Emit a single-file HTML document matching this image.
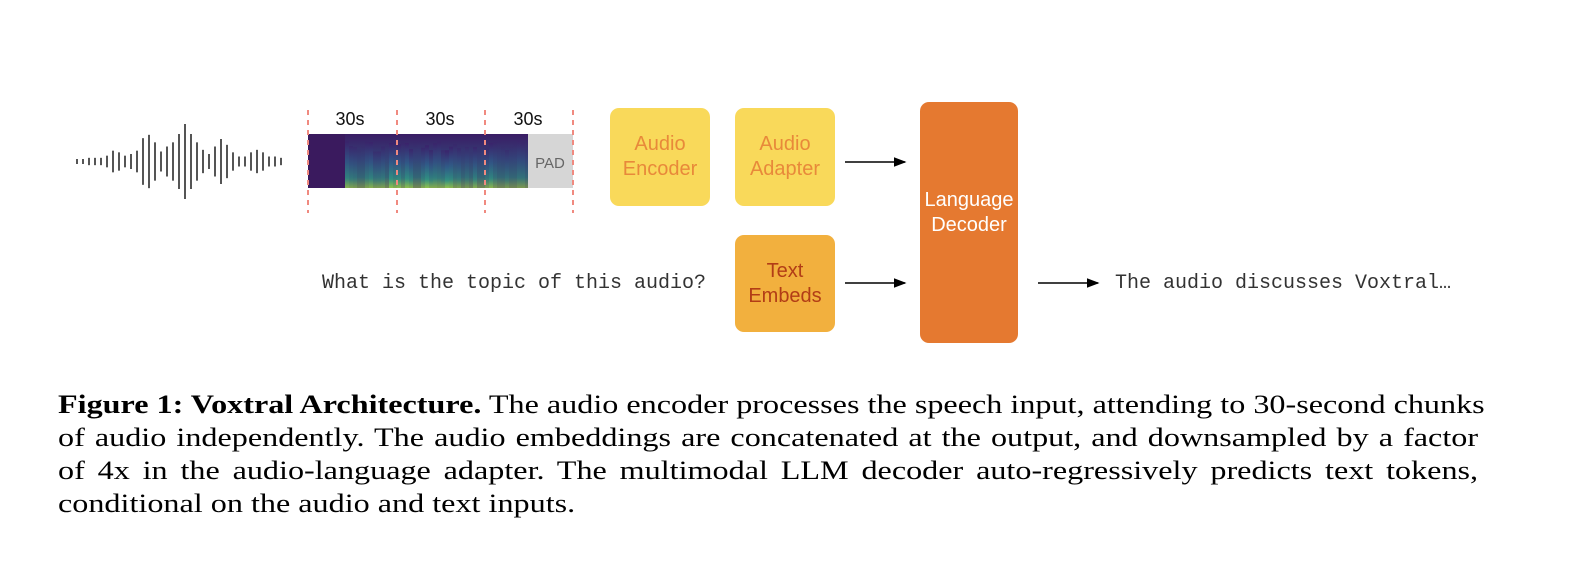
<!DOCTYPE html>
<html><head><meta charset="utf-8"><style>
body{margin:0;width:1575px;height:583px;background:#fff;position:relative;overflow:hidden}
.box{position:absolute;border-radius:9px;display:flex;align-items:center;justify-content:center;text-align:center;font-family:"Liberation Sans",sans-serif;font-size:20px;line-height:25px}
.mono{position:absolute;font-family:"Liberation Mono",monospace;font-size:20px;color:#333;white-space:pre}
.cap{position:absolute;left:58px;width:1148px;font-family:"Liberation Serif",serif;font-size:26px;line-height:33px;color:#000;text-align:justify;text-align-last:justify;white-space:nowrap;transform:scaleX(1.237);transform-origin:0 0}
</style></head><body>
<svg width="1575" height="583" style="position:absolute;left:0;top:0">
<defs>
<linearGradient id="sg" x1="0" y1="0" x2="0" y2="1">
<stop offset="0" stop-color="#3b1f6a"/><stop offset="0.45" stop-color="#2f5f8c"/><stop offset="0.8" stop-color="#2e9a86"/><stop offset="1" stop-color="#9bd24a"/></linearGradient>
<marker id="ah" markerWidth="8" markerHeight="8" refX="7" refY="4" orient="auto"><path d="M0,1 L8,4 L0,7z" fill="#000"/></marker>
</defs>
<g fill="#555" id="wave"></g>
<rect x="308" y="134" width="220" height="54" fill="#3a1a5e"/>
<rect x="345" y="134" width="183" height="54" fill="url(#sg)" opacity="0.55"/>
<g id="spec"></g>
<rect x="528" y="134" width="45" height="54" fill="#d6d6d6"/>
<text x="550" y="168" font-family="Liberation Sans" font-size="15" fill="#666" text-anchor="middle">PAD</text>
<g font-family="Liberation Sans" font-size="18" fill="#111" text-anchor="middle">
<text x="350" y="125">30s</text><text x="440" y="125">30s</text><text x="528" y="125">30s</text></g>
<g stroke="#f08a80" stroke-width="2" stroke-dasharray="5,5">
<line x1="308" y1="110" x2="308" y2="213"/><line x1="397" y1="110" x2="397" y2="213"/><line x1="485" y1="110" x2="485" y2="213"/><line x1="573" y1="110" x2="573" y2="213"/></g>
<g stroke="#000" stroke-width="1.6" marker-end="url(#ah)">
<line x1="845" y1="162" x2="905" y2="162"/><line x1="845" y1="283" x2="905" y2="283"/><line x1="1038" y1="283" x2="1098" y2="283"/></g>
</svg>
<div class="box" style="left:610px;top:108px;width:100px;height:98px;background:#f9d95a;color:#e8893a">Audio<br>Encoder</div>
<div class="box" style="left:735px;top:108px;width:100px;height:98px;background:#f9d95a;color:#e8893a">Audio<br>Adapter</div>
<div class="box" style="left:735px;top:235px;width:100px;height:97px;background:#f2b03e;color:#b23d16">Text<br>Embeds</div>
<div class="box" style="left:920px;top:102px;width:98px;height:241px;background:#e57930;color:#fff;padding-bottom:20px;box-sizing:border-box">Language<br>Decoder</div>
<div class="mono" style="left:322px;top:272px">What is the topic of this audio?</div>
<div class="mono" style="left:1115px;top:272px">The audio discusses Voxtral…</div>
<div class="cap" style="top:388px"><b>Figure 1: Voxtral Architecture.</b> The audio encoder processes the speech input, attending to 30-second chunks</div>
<div class="cap" style="top:421px">of audio independently. The audio embeddings are concatenated at the output, and downsampled by a factor</div>
<div class="cap" style="top:454px">of 4x in the audio-language adapter. The multimodal LLM decoder auto-regressively predicts text tokens,</div>
<div class="cap" style="top:487px;text-align-last:left">conditional on the audio and text inputs.</div>
<script>
var h=[15,15,22,22,22,35,65,55,35,45,65,140,160,115,60,90,115,165,225,165,115,70,45,90,135,100,55,30,30,55,70,55,30,30,22];
var w=document.getElementById('wave'),s='';
h.forEach(function(v,i){var hh=v/3;s+='<rect x="'+(76+i*6)+'" y="'+(161.5-hh/2)+'" width="2" height="'+hh+'"/>';});
w.innerHTML=s;
var sp=document.getElementById('spec'),t='';
var seed=7;function r(){seed=(seed*9301+49297)%233280;return seed/233280;}
for(var x=345;x<528;x+=4){var a=(x>490)?0.3:0.3+r()*0.5; if(r()<0.3)a=0.1;
var y=140+r()*12;t+='<rect x="'+x+'" y="'+y.toFixed(1)+'" width="4" height="'+(188-y).toFixed(1)+'" fill="url(#sg)" opacity="'+a.toFixed(2)+'"/>';}
sp.innerHTML=t;
</script>
</body></html>
